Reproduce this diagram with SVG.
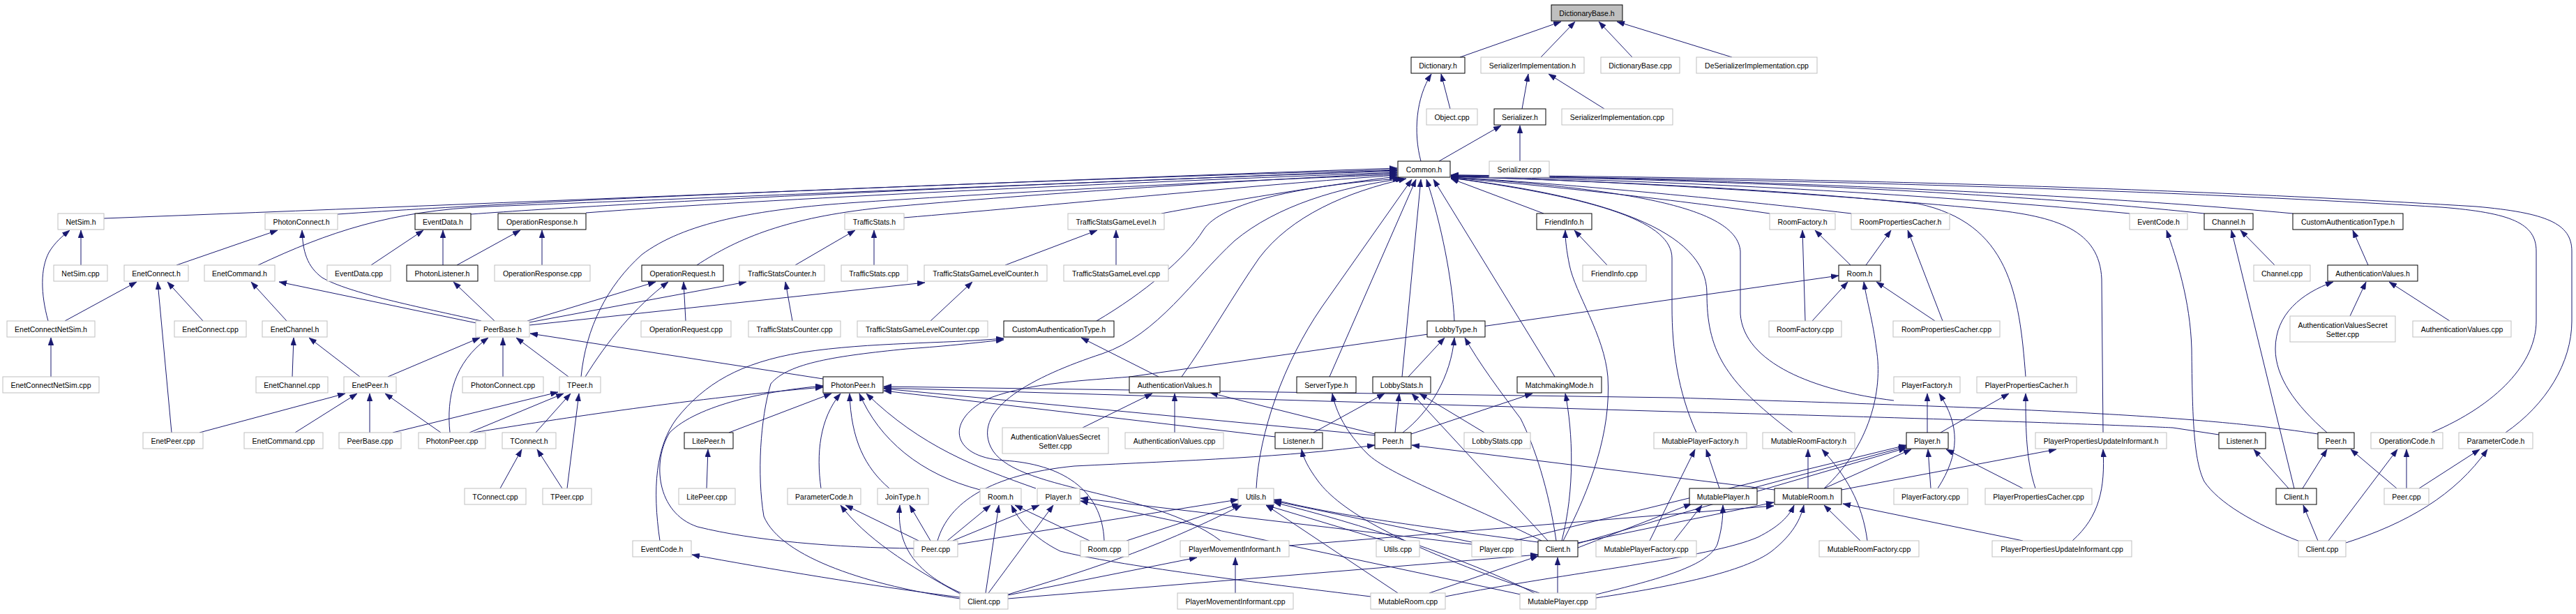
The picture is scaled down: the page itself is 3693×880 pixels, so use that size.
<svg xmlns="http://www.w3.org/2000/svg" width="3693" height="880" viewBox="0 0 3693 880">
<style>
.n rect{fill:#fff;stroke:#bfbfbf;stroke-width:1}
.n.b rect{stroke:#000}
.n.r rect{fill:#bfbfbf;stroke:#000}
.n text{font-family:"Liberation Sans",Arial,sans-serif;font-size:10.5px;text-anchor:middle;fill:#000}
.e path{fill:none;stroke:#191970;stroke-width:1;marker-end:url(#a)}
</style>
<defs>
<marker id="a" viewBox="0 0 11 8" refX="11" refY="4" markerWidth="11" markerHeight="8" markerUnits="userSpaceOnUse" orient="auto">
<path d="M0,0 L11,4 L0,8 z" fill="#191970" stroke="#191970" stroke-width="0.5"/>
</marker>
</defs>
<rect width="3693" height="880" fill="#fff"/>
<g id="edges" class="e">
<path d="M2093,82 L2238,31"/>
<path d="M2209,82 L2258,31"/>
<path d="M2340,82 L2292,31"/>
<path d="M2483,82 L2318,31"/>
<path d="M2037,231 C2026,190 2030,140 2052,106"/>
<path d="M2079,156 L2066,106"/>
<path d="M2182,156 L2191,106"/>
<path d="M2300,156 L2220,106"/>
<path d="M2063,231 L2152,180"/>
<path d="M2179,231 L2179,180"/>
<path d="M149,313 C700,292 1500,258 2003,241"/>
<path d="M484,307 C800,285 1500,258 2003,243"/>
<path d="M370,380 C470,333 560,302 700,296 C1200,276 1700,256 2003,244"/>
<path d="M675,307 C900,290 1500,262 2003,245"/>
<path d="M840,305 C1100,285 1600,262 2003,247"/>
<path d="M999,380 C1060,340 1130,312 1260,298 C1500,276 1800,258 2003,248"/>
<path d="M833,540 C840,470 870,410 920,365 C980,320 1080,300 1230,290 C1500,272 1800,258 2003,250"/>
<path d="M1296,312 C1500,295 1800,265 2003,251"/>
<path d="M1665,306 C1750,290 1900,265 2003,253"/>
<path d="M1572,460 C1640,420 1700,370 1725,330 C1750,290 1870,265 2008,256"/>
<path d="M1750,775 C1650,700 1450,705 1420,640 C1395,585 1480,540 1580,507 C1660,480 1710,400 1770,345 C1830,295 1920,268 2012,256"/>
<path d="M1694,540 C1730,490 1770,420 1805,370 C1850,310 1930,275 2016,256"/>
<path d="M1801,700 C1805,620 1840,520 1895,440 L2024,257"/>
<path d="M1906,540 L2030,257"/>
<path d="M2010,540 L2037,257"/>
<path d="M2085,460 C2082,400 2066,320 2045,257"/>
<path d="M2229,540 L2055,257"/>
<path d="M2213,306 L2080,256"/>
<path d="M2537,306 C2400,286 2200,264 2080,255"/>
<path d="M2654,306 C2450,282 2200,260 2080,254"/>
<path d="M3053,306 C2700,272 2300,256 2080,253"/>
<path d="M3160,306 C2800,268 2300,254 2080,252"/>
<path d="M3287,306 C2900,270 2300,253 2080,251"/>
<path d="M2570,620 C2470,545 2447,500 2447,420 C2447,330 2300,282 2080,255"/>
<path d="M2715,574 C2600,560 2500,520 2495,450 L2495,360 C2490,300 2350,272 2080,254"/>
<path d="M2904,540 C2895,420 2880,320 2750,292 C2500,266 2200,257 2080,253"/>
<path d="M3015,620 L3013,400 C3010,330 2950,310 2850,300 C2600,276 2300,259 2080,253"/>
<path d="M3486,620 C3580,580 3636,520 3636,460 L3636,360 C3636,320 3600,305 3500,297 C3000,266 2400,255 2080,252"/>
<path d="M3592,620 C3650,580 3687,520 3687,460 L3687,360 C3687,320 3650,305 3550,296 C3000,262 2400,253 2080,251"/>
<path d="M2432,620 C2405,560 2397,500 2397,440 L2397,370 C2397,320 2300,285 2080,255"/>
<path d="M116,380 L116,330"/>
<path d="M69,460 C58,420 58,385 70,362 C78,348 90,338 100,330"/>
<path d="M253,380 L398,330"/>
<path d="M690,460 C600,440 500,420 462,398 C440,382 434,360 433,330"/>
<path d="M532,380 L607,330"/>
<path d="M635,380 L635,330"/>
<path d="M655,380 L746,330"/>
<path d="M777,380 L777,330"/>
<path d="M1140,380 L1226,330"/>
<path d="M1253,380 L1253,330"/>
<path d="M1441,380 L1573,330"/>
<path d="M1600,380 L1600,330"/>
<path d="M2304,380 L2257,330"/>
<path d="M2241,775 C2280,700 2310,620 2305,540 C2300,480 2258,420 2250,380 C2246,360 2244,345 2244,330"/>
<path d="M2653,380 L2602,330"/>
<path d="M2588,460 L2584,330"/>
<path d="M2675,380 L2711,330"/>
<path d="M2785,460 L2735,330"/>
<path d="M3297,776 C3230,750 3180,720 3160,690 C3145,660 3143,600 3142,500 C3140,430 3120,370 3106,330"/>
<path d="M3261,380 L3212,330"/>
<path d="M3289,700 L3199,330"/>
<path d="M3395,380 L3373,330"/>
<path d="M93,460 L196,404"/>
<path d="M291,460 L240,404"/>
<path d="M246,620 L226,404"/>
<path d="M411,460 L360,404"/>
<path d="M683,463 L400,404"/>
<path d="M709,460 L650,404"/>
<path d="M756,460 L940,404"/>
<path d="M839,540 C870,490 910,440 958,404"/>
<path d="M983,460 L980,404"/>
<path d="M759,462 L1070,404"/>
<path d="M1136,460 L1126,404"/>
<path d="M759,466 L1326,405"/>
<path d="M1334,460 L1394,404"/>
<path d="M2598,460 L2649,404"/>
<path d="M2774,460 L2690,404"/>
<path d="M2615,700 C2680,640 2700,560 2690,500 C2685,460 2676,430 2672,404"/>
<path d="M1583,775 C1580,700 1520,665 1440,660 C1360,655 1355,600 1420,570 C1480,548 1560,545 1620,540 L2636,395"/>
<path d="M3336,620 C3290,580 3262,540 3262,500 C3262,450 3300,420 3345,404"/>
<path d="M3369,453 L3392,404"/>
<path d="M3512,460 L3425,404"/>
<path d="M73,540 L73,484"/>
<path d="M419,540 L421,484"/>
<path d="M516,540 L443,484"/>
<path d="M556,540 L688,484"/>
<path d="M721,540 L721,484"/>
<path d="M815,540 L740,484"/>
<path d="M645,620 C640,570 650,520 700,484"/>
<path d="M1180,543 L760,478"/>
<path d="M286,620 L495,564"/>
<path d="M423,620 L512,564"/>
<path d="M530,620 L530,564"/>
<path d="M632,620 L552,564"/>
<path d="M563,620 L800,562"/>
<path d="M673,620 L808,564"/>
<path d="M768,620 L818,564"/>
<path d="M813,700 L830,564"/>
<path d="M717,700 L748,644"/>
<path d="M806,700 L770,644"/>
<path d="M679,620 C800,600 1000,570 1180,555"/>
<path d="M1045,620 L1192,564"/>
<path d="M1013,700 L1015,644"/>
<path d="M1177,700 C1170,650 1175,600 1205,564"/>
<path d="M1275,700 C1240,670 1220,630 1218,564"/>
<path d="M1405,702 C1320,680 1260,630 1232,564"/>
<path d="M1485,700 C1400,670 1320,640 1242,564"/>
<path d="M1310,786 C1200,785 1080,775 1000,755 C940,735 935,660 960,620 C1000,580 1100,560 1180,553"/>
<path d="M1971,624 L1267,557"/>
<path d="M1828,626 L1267,560"/>
<path d="M3323,622 C3150,595 2900,585 2400,570 L1267,554"/>
<path d="M3181,623 L3115,613 C3050,610 2800,600 2400,590 L1267,556"/>
<path d="M946,775 C935,700 940,640 970,600 C1010,550 1060,520 1150,505 C1250,490 1350,493 1439,485"/>
<path d="M1376,858 C1250,840 1120,800 1095,740 C1085,680 1090,600 1105,550 C1130,520 1200,510 1300,500 C1360,496 1410,490 1439,487"/>
<path d="M1661,540 L1550,484"/>
<path d="M1552,613 L1652,564"/>
<path d="M1684,620 L1684,564"/>
<path d="M1971,622 L1735,563"/>
<path d="M2019,540 L2071,484"/>
<path d="M2011,620 C2050,590 2080,540 2085,484"/>
<path d="M2231,775 C2220,700 2200,640 2180,600 C2150,560 2120,520 2100,484"/>
<path d="M1883,620 L1985,564"/>
<path d="M2000,620 L2006,564"/>
<path d="M2219,775 L2024,564"/>
<path d="M2128,620 L2035,564"/>
<path d="M2210,775 C2100,720 1990,680 1960,650 C1930,620 1915,590 1910,564"/>
<path d="M2023,622 L2197,564"/>
<path d="M2239,775 C2258,700 2255,620 2244,564"/>
<path d="M1344,775 C1360,720 1420,680 1540,668 C1700,660 1850,655 1971,638"/>
<path d="M2544,702 L2024,638"/>
<path d="M2207,850 C2000,780 1920,730 1890,690 C1875,670 1868,655 1866,644"/>
<path d="M2365,775 L2430,644"/>
<path d="M2465,700 L2446,644"/>
<path d="M2592,700 L2592,644"/>
<path d="M2677,775 C2670,720 2645,680 2612,644"/>
<path d="M2511,700 L2733,640"/>
<path d="M2615,700 L2740,644"/>
<path d="M2768,700 L2764,644"/>
<path d="M2900,700 L2790,644"/>
<path d="M2171,775 L2733,638"/>
<path d="M2262,779 L2733,642"/>
<path d="M2763,620 L2763,564"/>
<path d="M2778,700 C2810,650 2810,610 2780,564"/>
<path d="M2782,620 L2880,564"/>
<path d="M2918,700 C2905,660 2904,620 2904,564"/>
<path d="M2640,702 L2948,644"/>
<path d="M2971,775 C3010,740 3018,700 3015,644"/>
<path d="M3281,700 L3231,644"/>
<path d="M3301,700 L3336,644"/>
<path d="M3436,700 L3370,644"/>
<path d="M3338,775 L3437,644"/>
<path d="M3450,700 L3450,644"/>
<path d="M3468,700 L3555,644"/>
<path d="M3363,778 C3450,750 3520,710 3566,644"/>
<path d="M3323,775 L3302,724"/>
<path d="M1317,775 L1212,724"/>
<path d="M1378,852 C1300,810 1240,770 1205,724"/>
<path d="M1334,775 L1304,724"/>
<path d="M1378,850 C1310,820 1285,780 1290,724"/>
<path d="M1358,775 L1420,724"/>
<path d="M1413,850 L1432,724"/>
<path d="M1562,775 L1455,724"/>
<path d="M1965,855 C1800,835 1600,810 1520,790 C1480,770 1460,745 1450,724"/>
<path d="M1366,775 L1490,724"/>
<path d="M1417,850 L1510,724"/>
<path d="M2110,780 L1549,714"/>
<path d="M2180,852 L1549,718"/>
<path d="M1373,780 L1775,716"/>
<path d="M1615,775 L1777,722"/>
<path d="M1445,852 C1550,820 1650,790 1780,724"/>
<path d="M1985,775 L1815,724"/>
<path d="M2110,777 L1826,718"/>
<path d="M2205,777 C2000,750 1900,735 1826,716"/>
<path d="M2004,850 L1815,724"/>
<path d="M2200,850 C2100,800 1950,750 1826,720"/>
<path d="M1445,853 L1716,799"/>
<path d="M1771,850 L1771,799"/>
<path d="M1445,858 L2205,795"/>
<path d="M2049,850 L2205,797"/>
<path d="M2233,850 L2233,799"/>
<path d="M1376,856 C1250,840 1100,815 992,795"/>
<path d="M2262,778 L2543,720"/>
<path d="M2072,855 C2250,820 2450,800 2520,770 C2550,755 2565,740 2572,724"/>
<path d="M2288,857 C2400,840 2500,820 2540,790 C2565,770 2580,750 2586,724"/>
<path d="M2667,775 L2615,724"/>
<path d="M2900,775 L2642,722"/>
<path d="M2288,852 C2380,830 2450,810 2462,780 C2468,760 2470,745 2470,724"/>
<path d="M2262,785 L2425,722"/>
<path d="M2400,775 L2440,724"/>
<path d="M1848,782 L2543,725"/>
</g>
<g id="n_DictionaryBase_h" class="n r"><rect x="2224" y="7" width="102" height="23"/><text x="2275" y="22.5">DictionaryBase.h</text></g>
<g id="n_Dictionary_h" class="n b"><rect x="2023" y="82" width="77" height="23"/><text x="2061.5" y="97.5">Dictionary.h</text></g>
<g id="n_SerializerImplementation_h" class="n"><rect x="2123" y="82" width="148" height="23"/><text x="2197" y="97.5">SerializerImplementation.h</text></g>
<g id="n_DictionaryBase_cpp" class="n"><rect x="2295" y="82" width="113" height="23"/><text x="2351.5" y="97.5">DictionaryBase.cpp</text></g>
<g id="n_DeSerializerImplementation_cpp" class="n"><rect x="2432" y="82" width="173" height="23"/><text x="2518.5" y="97.5">DeSerializerImplementation.cpp</text></g>
<g id="n_Object_cpp" class="n"><rect x="2045" y="156" width="73" height="23"/><text x="2081.5" y="171.5">Object.cpp</text></g>
<g id="n_Serializer_h" class="n b"><rect x="2142" y="156" width="74" height="23"/><text x="2179" y="171.5">Serializer.h</text></g>
<g id="n_SerializerImplementation_cpp" class="n"><rect x="2239" y="156" width="159" height="23"/><text x="2318.5" y="171.5">SerializerImplementation.cpp</text></g>
<g id="n_Common_h" class="n b"><rect x="2004" y="231" width="75" height="23"/><text x="2041.5" y="246.5">Common.h</text></g>
<g id="n_Serializer_cpp" class="n"><rect x="2135" y="231" width="86" height="23"/><text x="2178" y="246.5">Serializer.cpp</text></g>
<g id="n_NetSim_h" class="n"><rect x="83" y="306" width="66" height="23"/><text x="116" y="321.5">NetSim.h</text></g>
<g id="n_PhotonConnect_h" class="n"><rect x="380" y="306" width="104" height="23"/><text x="432" y="321.5">PhotonConnect.h</text></g>
<g id="n_EventData_h" class="n b"><rect x="595" y="306" width="80" height="23"/><text x="635" y="321.5">EventData.h</text></g>
<g id="n_OperationResponse_h" class="n b"><rect x="714" y="306" width="126" height="23"/><text x="777" y="321.5">OperationResponse.h</text></g>
<g id="n_TrafficStats_h" class="n"><rect x="1211" y="306" width="85" height="23"/><text x="1253.5" y="321.5">TrafficStats.h</text></g>
<g id="n_TrafficStatsGameLevel_h" class="n"><rect x="1531" y="306" width="138" height="23"/><text x="1600" y="321.5">TrafficStatsGameLevel.h</text></g>
<g id="n_FriendInfo_h" class="n b"><rect x="2203" y="306" width="79" height="23"/><text x="2242.5" y="321.5">FriendInfo.h</text></g>
<g id="n_RoomFactory_h" class="n"><rect x="2537" y="306" width="94" height="23"/><text x="2584" y="321.5">RoomFactory.h</text></g>
<g id="n_RoomPropertiesCacher_h" class="n"><rect x="2654" y="306" width="141" height="23"/><text x="2724.5" y="321.5">RoomPropertiesCacher.h</text></g>
<g id="n_EventCode_h_1" class="n"><rect x="3053" y="306" width="83" height="23"/><text x="3094.5" y="321.5">EventCode.h</text></g>
<g id="n_Channel_h" class="n b"><rect x="3160" y="306" width="70" height="23"/><text x="3195" y="321.5">Channel.h</text></g>
<g id="n_CustomAuthenticationType_h_1" class="n b"><rect x="3287" y="306" width="158" height="23"/><text x="3366" y="321.5">CustomAuthenticationType.h</text></g>
<g id="n_NetSim_cpp" class="n"><rect x="77" y="380" width="77" height="23"/><text x="115.5" y="395.5">NetSim.cpp</text></g>
<g id="n_EnetConnect_h" class="n"><rect x="178" y="380" width="92" height="23"/><text x="224" y="395.5">EnetConnect.h</text></g>
<g id="n_EnetCommand_h" class="n"><rect x="293" y="380" width="101" height="23"/><text x="343.5" y="395.5">EnetCommand.h</text></g>
<g id="n_EventData_cpp" class="n"><rect x="469" y="380" width="91" height="23"/><text x="514.5" y="395.5">EventData.cpp</text></g>
<g id="n_PhotonListener_h" class="n b"><rect x="583" y="380" width="102" height="23"/><text x="634" y="395.5">PhotonListener.h</text></g>
<g id="n_OperationResponse_cpp" class="n"><rect x="709" y="380" width="137" height="23"/><text x="777.5" y="395.5">OperationResponse.cpp</text></g>
<g id="n_OperationRequest_h" class="n b"><rect x="920" y="380" width="117" height="23"/><text x="978.5" y="395.5">OperationRequest.h</text></g>
<g id="n_TrafficStatsCounter_h" class="n"><rect x="1060" y="380" width="122" height="23"/><text x="1121" y="395.5">TrafficStatsCounter.h</text></g>
<g id="n_TrafficStats_cpp" class="n"><rect x="1206" y="380" width="95" height="23"/><text x="1253.5" y="395.5">TrafficStats.cpp</text></g>
<g id="n_TrafficStatsGameLevelCounter_h" class="n"><rect x="1325" y="380" width="176" height="23"/><text x="1413" y="395.5">TrafficStatsGameLevelCounter.h</text></g>
<g id="n_TrafficStatsGameLevel_cpp" class="n"><rect x="1525" y="380" width="150" height="23"/><text x="1600" y="395.5">TrafficStatsGameLevel.cpp</text></g>
<g id="n_FriendInfo_cpp" class="n"><rect x="2269" y="380" width="91" height="23"/><text x="2314.5" y="395.5">FriendInfo.cpp</text></g>
<g id="n_Room_h_1" class="n b"><rect x="2636" y="380" width="60" height="23"/><text x="2666" y="395.5">Room.h</text></g>
<g id="n_Channel_cpp" class="n"><rect x="3231" y="380" width="81" height="23"/><text x="3271.5" y="395.5">Channel.cpp</text></g>
<g id="n_AuthenticationValues_h_1" class="n b"><rect x="3337" y="380" width="129" height="23"/><text x="3401.5" y="395.5">AuthenticationValues.h</text></g>
<g id="n_EnetConnectNetSim_h" class="n"><rect x="10" y="460" width="126" height="23"/><text x="73" y="475.5">EnetConnectNetSim.h</text></g>
<g id="n_EnetConnect_cpp" class="n"><rect x="250" y="460" width="103" height="23"/><text x="301.5" y="475.5">EnetConnect.cpp</text></g>
<g id="n_EnetChannel_h" class="n"><rect x="376" y="460" width="93" height="23"/><text x="422.5" y="475.5">EnetChannel.h</text></g>
<g id="n_PeerBase_h" class="n"><rect x="682" y="460" width="77" height="23"/><text x="720.5" y="475.5">PeerBase.h</text></g>
<g id="n_OperationRequest_cpp" class="n"><rect x="919" y="460" width="129" height="23"/><text x="983.5" y="475.5">OperationRequest.cpp</text></g>
<g id="n_TrafficStatsCounter_cpp" class="n"><rect x="1073" y="460" width="132" height="23"/><text x="1139" y="475.5">TrafficStatsCounter.cpp</text></g>
<g id="n_TrafficStatsGameLevelCounter_cpp" class="n"><rect x="1229" y="460" width="187" height="23"/><text x="1322.5" y="475.5">TrafficStatsGameLevelCounter.cpp</text></g>
<g id="n_CustomAuthenticationType_h_2" class="n b"><rect x="1439" y="460" width="158" height="23"/><text x="1518" y="475.5">CustomAuthenticationType.h</text></g>
<g id="n_LobbyType_h" class="n b"><rect x="2046" y="460" width="83" height="23"/><text x="2087.5" y="475.5">LobbyType.h</text></g>
<g id="n_RoomFactory_cpp" class="n"><rect x="2536" y="460" width="104" height="23"/><text x="2588" y="475.5">RoomFactory.cpp</text></g>
<g id="n_RoomPropertiesCacher_cpp" class="n"><rect x="2714" y="460" width="153" height="23"/><text x="2790.5" y="475.5">RoomPropertiesCacher.cpp</text></g>
<g id="n_AuthenticationValuesSecretSetter_cpp_2" class="n"><rect x="3283" y="453" width="151" height="37"/><text x="3358.5" y="470">AuthenticationValuesSecret</text><text x="3358.5" y="483">Setter.cpp</text></g>
<g id="n_AuthenticationValues_cpp_2" class="n"><rect x="3459" y="460" width="141" height="23"/><text x="3529.5" y="475.5">AuthenticationValues.cpp</text></g>
<g id="n_EnetConnectNetSim_cpp" class="n"><rect x="4" y="540" width="138" height="23"/><text x="73" y="555.5">EnetConnectNetSim.cpp</text></g>
<g id="n_EnetChannel_cpp" class="n"><rect x="367" y="540" width="103" height="23"/><text x="418.5" y="555.5">EnetChannel.cpp</text></g>
<g id="n_EnetPeer_h" class="n"><rect x="493" y="540" width="75" height="23"/><text x="530.5" y="555.5">EnetPeer.h</text></g>
<g id="n_PhotonConnect_cpp" class="n"><rect x="663" y="540" width="116" height="23"/><text x="721" y="555.5">PhotonConnect.cpp</text></g>
<g id="n_TPeer_h" class="n"><rect x="802" y="540" width="59" height="23"/><text x="831.5" y="555.5">TPeer.h</text></g>
<g id="n_PhotonPeer_h" class="n b"><rect x="1180" y="540" width="86" height="23"/><text x="1223" y="555.5">PhotonPeer.h</text></g>
<g id="n_AuthenticationValues_h_2" class="n b"><rect x="1619" y="540" width="130" height="23"/><text x="1684" y="555.5">AuthenticationValues.h</text></g>
<g id="n_ServerType_h" class="n b"><rect x="1859" y="540" width="85" height="23"/><text x="1901.5" y="555.5">ServerType.h</text></g>
<g id="n_LobbyStats_h" class="n b"><rect x="1968" y="540" width="83" height="23"/><text x="2009.5" y="555.5">LobbyStats.h</text></g>
<g id="n_MatchmakingMode_h" class="n b"><rect x="2175" y="540" width="121" height="23"/><text x="2235.5" y="555.5">MatchmakingMode.h</text></g>
<g id="n_PlayerFactory_h" class="n"><rect x="2715" y="540" width="95" height="23"/><text x="2762.5" y="555.5">PlayerFactory.h</text></g>
<g id="n_PlayerPropertiesCacher_h" class="n"><rect x="2834" y="540" width="143" height="23"/><text x="2905.5" y="555.5">PlayerPropertiesCacher.h</text></g>
<g id="n_EnetPeer_cpp" class="n"><rect x="205" y="620" width="86" height="23"/><text x="248" y="635.5">EnetPeer.cpp</text></g>
<g id="n_EnetCommand_cpp" class="n"><rect x="350" y="620" width="113" height="23"/><text x="406.5" y="635.5">EnetCommand.cpp</text></g>
<g id="n_PeerBase_cpp" class="n"><rect x="486" y="620" width="89" height="23"/><text x="530.5" y="635.5">PeerBase.cpp</text></g>
<g id="n_PhotonPeer_cpp" class="n"><rect x="600" y="620" width="96" height="23"/><text x="648" y="635.5">PhotonPeer.cpp</text></g>
<g id="n_TConnect_h" class="n"><rect x="720" y="620" width="77" height="23"/><text x="758.5" y="635.5">TConnect.h</text></g>
<g id="n_LitePeer_h" class="n b"><rect x="981" y="620" width="70" height="23"/><text x="1016" y="635.5">LitePeer.h</text></g>
<g id="n_AuthenticationValuesSecretSetter_cpp_1" class="n"><rect x="1437" y="613" width="152" height="37"/><text x="1513" y="630">AuthenticationValuesSecret</text><text x="1513" y="643">Setter.cpp</text></g>
<g id="n_AuthenticationValues_cpp_1" class="n"><rect x="1613" y="620" width="141" height="23"/><text x="1683.5" y="635.5">AuthenticationValues.cpp</text></g>
<g id="n_Listener_h_1" class="n b"><rect x="1828" y="620" width="68" height="23"/><text x="1862" y="635.5">Listener.h</text></g>
<g id="n_Peer_h_1" class="n b"><rect x="1971" y="620" width="52" height="23"/><text x="1997" y="635.5">Peer.h</text></g>
<g id="n_LobbyStats_cpp" class="n"><rect x="2099" y="620" width="95" height="23"/><text x="2146.5" y="635.5">LobbyStats.cpp</text></g>
<g id="n_MutablePlayerFactory_h" class="n"><rect x="2371" y="620" width="133" height="23"/><text x="2437.5" y="635.5">MutablePlayerFactory.h</text></g>
<g id="n_MutableRoomFactory_h" class="n"><rect x="2527" y="620" width="132" height="23"/><text x="2593" y="635.5">MutableRoomFactory.h</text></g>
<g id="n_Player_h_1" class="n b"><rect x="2733" y="620" width="60" height="23"/><text x="2763" y="635.5">Player.h</text></g>
<g id="n_PlayerPropertiesUpdateInformant_h" class="n"><rect x="2918" y="620" width="188" height="23"/><text x="3012" y="635.5">PlayerPropertiesUpdateInformant.h</text></g>
<g id="n_Listener_h_2" class="n b"><rect x="3181" y="620" width="67" height="23"/><text x="3214.5" y="635.5">Listener.h</text></g>
<g id="n_Peer_h_2" class="n b"><rect x="3323" y="620" width="52" height="23"/><text x="3349" y="635.5">Peer.h</text></g>
<g id="n_OperationCode_h" class="n"><rect x="3399" y="620" width="103" height="23"/><text x="3450.5" y="635.5">OperationCode.h</text></g>
<g id="n_ParameterCode_h_2" class="n"><rect x="3525" y="620" width="106" height="23"/><text x="3578" y="635.5">ParameterCode.h</text></g>
<g id="n_TConnect_cpp" class="n"><rect x="666" y="700" width="88" height="23"/><text x="710" y="715.5">TConnect.cpp</text></g>
<g id="n_TPeer_cpp" class="n"><rect x="778" y="700" width="70" height="23"/><text x="813" y="715.5">TPeer.cpp</text></g>
<g id="n_LitePeer_cpp" class="n"><rect x="973" y="700" width="81" height="23"/><text x="1013.5" y="715.5">LitePeer.cpp</text></g>
<g id="n_ParameterCode_h_1" class="n"><rect x="1129" y="700" width="105" height="23"/><text x="1181.5" y="715.5">ParameterCode.h</text></g>
<g id="n_JoinType_h" class="n"><rect x="1258" y="700" width="73" height="23"/><text x="1294.5" y="715.5">JoinType.h</text></g>
<g id="n_Room_h_2" class="n"><rect x="1405" y="700" width="59" height="23"/><text x="1434.5" y="715.5">Room.h</text></g>
<g id="n_Player_h_2" class="n"><rect x="1487" y="700" width="61" height="23"/><text x="1517.5" y="715.5">Player.h</text></g>
<g id="n_Utils_h" class="n"><rect x="1775" y="700" width="51" height="23"/><text x="1800.5" y="715.5">Utils.h</text></g>
<g id="n_MutablePlayer_h" class="n b"><rect x="2422" y="700" width="97" height="23"/><text x="2470.5" y="715.5">MutablePlayer.h</text></g>
<g id="n_MutableRoom_h" class="n b"><rect x="2544" y="700" width="96" height="23"/><text x="2592" y="715.5">MutableRoom.h</text></g>
<g id="n_PlayerFactory_cpp" class="n"><rect x="2715" y="700" width="106" height="23"/><text x="2768" y="715.5">PlayerFactory.cpp</text></g>
<g id="n_PlayerPropertiesCacher_cpp" class="n"><rect x="2846" y="700" width="153" height="23"/><text x="2922.5" y="715.5">PlayerPropertiesCacher.cpp</text></g>
<g id="n_Client_h_2" class="n b"><rect x="3263" y="700" width="58" height="23"/><text x="3292" y="715.5">Client.h</text></g>
<g id="n_Peer_cpp_2" class="n"><rect x="3418" y="700" width="64" height="23"/><text x="3450" y="715.5">Peer.cpp</text></g>
<g id="n_EventCode_h_2" class="n"><rect x="907" y="775" width="84" height="23"/><text x="949" y="790.5">EventCode.h</text></g>
<g id="n_Peer_cpp_1" class="n"><rect x="1310" y="775" width="63" height="23"/><text x="1341.5" y="790.5">Peer.cpp</text></g>
<g id="n_Room_cpp" class="n"><rect x="1549" y="775" width="69" height="23"/><text x="1583.5" y="790.5">Room.cpp</text></g>
<g id="n_PlayerMovementInformant_h" class="n"><rect x="1692" y="775" width="156" height="23"/><text x="1770" y="790.5">PlayerMovementInformant.h</text></g>
<g id="n_Utils_cpp" class="n"><rect x="1973" y="775" width="62" height="23"/><text x="2004" y="790.5">Utils.cpp</text></g>
<g id="n_Player_cpp" class="n"><rect x="2110" y="775" width="71" height="23"/><text x="2145.5" y="790.5">Player.cpp</text></g>
<g id="n_Client_h_1" class="n b"><rect x="2205" y="775" width="57" height="23"/><text x="2233.5" y="790.5">Client.h</text></g>
<g id="n_MutablePlayerFactory_cpp" class="n"><rect x="2288" y="775" width="144" height="23"/><text x="2360" y="790.5">MutablePlayerFactory.cpp</text></g>
<g id="n_MutableRoomFactory_cpp" class="n"><rect x="2608" y="775" width="143" height="23"/><text x="2679.5" y="790.5">MutableRoomFactory.cpp</text></g>
<g id="n_PlayerPropertiesUpdateInformant_cpp" class="n"><rect x="2856" y="775" width="200" height="23"/><text x="2956" y="790.5">PlayerPropertiesUpdateInformant.cpp</text></g>
<g id="n_Client_cpp_2" class="n"><rect x="3295" y="775" width="68" height="23"/><text x="3329" y="790.5">Client.cpp</text></g>
<g id="n_Client_cpp_1" class="n"><rect x="1376" y="850" width="69" height="23"/><text x="1410.5" y="865.5">Client.cpp</text></g>
<g id="n_PlayerMovementInformant_cpp" class="n"><rect x="1688" y="850" width="166" height="23"/><text x="1771" y="865.5">PlayerMovementInformant.cpp</text></g>
<g id="n_MutableRoom_cpp" class="n"><rect x="1965" y="850" width="107" height="23"/><text x="2018.5" y="865.5">MutableRoom.cpp</text></g>
<g id="n_MutablePlayer_cpp" class="n"><rect x="2179" y="850" width="109" height="23"/><text x="2233.5" y="865.5">MutablePlayer.cpp</text></g>
</svg>
